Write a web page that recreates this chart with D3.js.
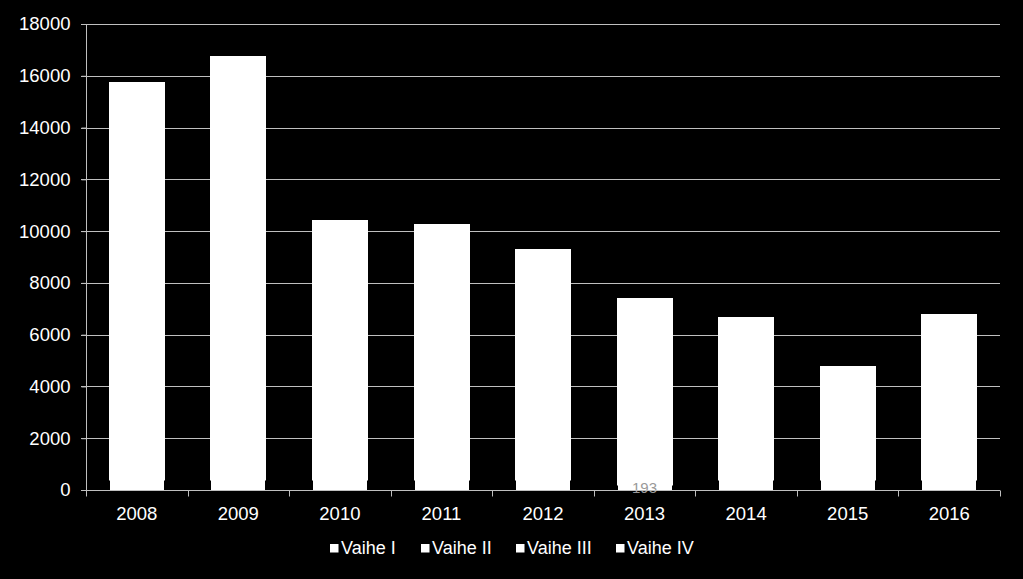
<!DOCTYPE html>
<html>
<head>
<meta charset="utf-8">
<script src="https://cdn.jsdelivr.net/npm/d3@7"></script>
<style>
  html, body { margin: 0; padding: 0; background: #000; }
  svg { display: block; }
  text { font-family: "Liberation Sans", Arial, sans-serif; fill: #fff; }
</style>
</head>
<body>
<svg id="chart" width="1023" height="579"></svg>
<script>
// data
var years = ['2008', '2009', '2010', '2011', '2012', '2013', '2014', '2015', '2016'];
var seriesNames = ['Vaihe I', 'Vaihe II', 'Vaihe III', 'Vaihe IV'];
var vaihe1 = [390, 390, 390, 390, 390, 193, 390, 390, 390];
var vaihe2 = [15370, 16370, 10040, 9890, 8920, 7220, 6290, 4400, 6410];
var vaihe3 = [0, 0, 0, 0, 0, 0, 0, 0, 0];
var vaihe4 = [0, 0, 0, 0, 0, 0, 0, 0, 0];
var yTicks = [0, 2000, 4000, 6000, 8000, 10000, 12000, 14000, 16000, 18000];

var svg = d3.select('#chart');
var margin = {top: 24, right: 23, bottom: 89, left: 86};
var width = 1023, height = 579;

var x = d3.scaleBand()
    .domain(years)
    .range([margin.left, width - margin.right])
    .paddingInner(0.45)
    .paddingOuter(0.225);
var y = d3.scaleLinear()
    .domain([0, 18000])
    .range([height - margin.bottom, margin.top]);

// gridlines
svg.append('g')
    .selectAll('line')
    .data(yTicks)
    .join('line')
    .attr('x1', margin.left - 5)
    .attr('x2', width - margin.right)
    .attr('y1', d => Math.round(y(d)) + 0.5)
    .attr('y2', d => Math.round(y(d)) + 0.5)
    .attr('stroke', '#bfbfbf')
    .attr('stroke-width', 1);

// stacked bars
var rows = years.map(function(yr, i) {
    return {year: yr, 'Vaihe I': vaihe1[i], 'Vaihe II': vaihe2[i], 'Vaihe III': vaihe3[i], 'Vaihe IV': vaihe4[i]};
});
var stacked = d3.stack().keys(seriesNames)(rows);

svg.append('g')
    .selectAll('g')
    .data(stacked)
    .join('g')
    .attr('fill', '#fff')
    .each(function(s, si) {
        var inset = si === 0 ? 1 : 0;
        d3.select(this).selectAll('rect')
            .data(s)
            .join('rect')
            .attr('x', d => Math.round(x(d.data.year)) + inset)
            .attr('width', Math.round(x.bandwidth()) - 2 * inset)
            .attr('y', d => Math.round(y(d[1])))
            .attr('height', d => Math.max(0, Math.round(y(d[0])) - Math.round(y(d[1]))) + (si === 0 ? 0 : 0.5));
    });

// hidden data label under 2013
svg.append('text')
    .attr('x', x('2013') + x.bandwidth() / 2)
    .attr('y', y(0) + 3)
    .attr('text-anchor', 'middle')
    .style('font-size', '15px')
    .style('fill', '#999')
    .text('193');

// y axis
var yAxis = d3.axisLeft(y).tickValues(yTicks).tickFormat(d3.format('d')).tickSize(5).tickPadding(11);
var gy = svg.append('g')
    .attr('transform', 'translate(' + (margin.left + 0.5) + ',0)')
    .call(yAxis);
gy.select('.domain').attr('stroke', '#bfbfbf').attr('d', 'M0,' + y(18000) + 'V' + y(0));
gy.selectAll('.tick line').attr('stroke', '#bfbfbf');
gy.selectAll('.tick text').style('font-size', '18.5px').style('fill', '#fff');

// x axis
var gx = svg.append('g')
    .attr('transform', 'translate(0,' + (Math.round(y(0)) + 0.5) + ')')
    .call(d3.axisBottom(x).tickSize(0).tickPadding(16));
gx.select('.domain').attr('stroke', '#bfbfbf').attr('d', 'M' + margin.left + ',0H' + (width - margin.right));
gx.selectAll('.tick text').style('font-size', '18.5px').style('fill', '#fff');
var step = x.step();
var bounds = d3.range(years.length + 1).map(i => x(years[0]) - x.paddingOuter() * step + i * step);
gx.selectAll('line.sep')
    .data(bounds)
    .join('line')
    .attr('class', 'sep')
    .attr('x1', d => Math.round(d) + 0.5)
    .attr('x2', d => Math.round(d) + 0.5)
    .attr('y1', 0)
    .attr('y2', 6)
    .attr('stroke', '#bfbfbf');

// legend
var legendX = [330, 421, 516, 616];
var lg = svg.append('g')
    .selectAll('g')
    .data(seriesNames)
    .join('g')
    .attr('transform', (d, i) => 'translate(' + legendX[i] + ',548)');
lg.append('rect')
    .attr('x', 0).attr('y', -4)
    .attr('width', 8.5).attr('height', 8.5)
    .attr('fill', '#fff');
lg.append('text')
    .attr('x', 11)
    .attr('y', 6)
    .style('font-size', '18px')
    .text(d => d);
</script>
</body>
</html>
